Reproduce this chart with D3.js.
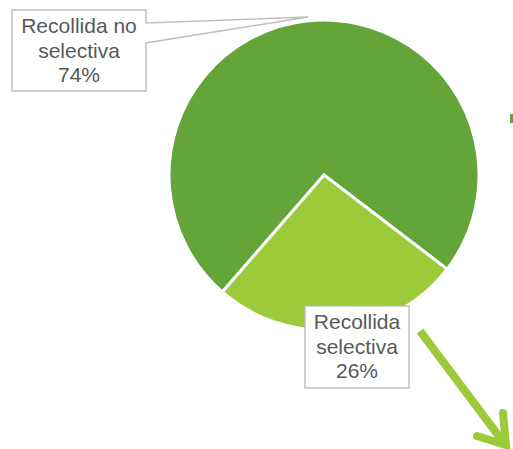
<!DOCTYPE html>
<html>
<head>
<meta charset="utf-8">
<script src="https://cdn.jsdelivr.net/npm/d3@7"></script>
<style>
  html, body { margin: 0; padding: 0; background: #fff; }
  svg { display: block; }
</style>
</head>
<body>
<svg id="chart" width="513" height="449"></svg>
<script>
const categories = ["Recollida no selectiva", "Recollida selectiva"];
const values = [74, 26];
const labelLines = [["Recollida no", "selectiva"], ["Recollida", "selectiva"]];
const colors = ["#63a538", "#9bcb3b"];

const svg = d3.select("#chart");
const cx = 324, cy = 175, r = 155;
const total = d3.sum(values);
const data = categories.map((c, i) => ({ cat: c, value: values[i], lines: labelLines[i], color: colors[i] }));

const startDeg = 221;
const pie = d3.pie().sort(null).value(d => d.value)
  .startAngle(startDeg * Math.PI / 180)
  .endAngle((startDeg + 360) * Math.PI / 180);
const arcs = pie(data);
const arc = d3.arc().innerRadius(0).outerRadius(r);

const g = svg.append("g").attr("transform", `translate(${cx},${cy})`);
g.selectAll("path.slice").data(arcs).join("path")
  .attr("class", "slice")
  .attr("d", arc)
  .attr("fill", d => d.data.color)
  .attr("stroke", "#fff")
  .attr("stroke-width", 3)
  .attr("stroke-linejoin", "miter");

// small clipped mark at right edge
svg.append("rect").attr("x", 510).attr("y", 114).attr("width", 4).attr("height", 9).attr("fill", colors[0]);

// Arrow
const arrow = svg.append("g").attr("stroke", colors[1]).attr("fill", "none").attr("stroke-width", 8);
arrow.append("line").attr("x1", 420).attr("y1", 331).attr("x2", 504).attr("y2", 443).attr("stroke-linecap", "butt");
arrow.append("polyline").attr("points", "503,413 506,445 477,436")
  .attr("stroke-linejoin", "miter").attr("stroke-linecap", "round");

const fontSize = 21;
const pct = v => Math.round(v / total * 100) + "%";

// Label 1 callout (box + pointer)
const b1 = { x: 12, y: 10, w: 134, h: 81 };
const tip = [308, 17];
svg.append("path")
  .attr("d", `M${b1.x},${b1.y} H${b1.x + b1.w} V23 L${tip[0]},${tip[1]} L${b1.x + b1.w},43 V${b1.y + b1.h} H${b1.x} Z`)
  .attr("fill", "#fff").attr("stroke", "#bfbfbf").attr("stroke-width", 1.5);
const t1 = svg.append("text").attr("font-family", "Liberation Sans, Arial, sans-serif")
  .attr("font-size", fontSize).attr("fill", "#595959").attr("text-anchor", "middle");
[...data[0].lines, pct(data[0].value)].forEach((s, i) => {
  t1.append("tspan").attr("x", b1.x + b1.w / 2).attr("y", 33 + i * 24.5).text(s);
});

// Label 2 box
const b2 = { x: 305, y: 306, w: 104, h: 82 };
svg.append("rect").attr("x", b2.x).attr("y", b2.y).attr("width", b2.w).attr("height", b2.h)
  .attr("fill", "#fff").attr("stroke", "#bfbfbf").attr("stroke-width", 1.5);
const t2 = svg.append("text").attr("font-family", "Liberation Sans, Arial, sans-serif")
  .attr("font-size", fontSize).attr("fill", "#595959").attr("text-anchor", "middle");
[...data[1].lines, pct(data[1].value)].forEach((s, i) => {
  t2.append("tspan").attr("x", b2.x + b2.w / 2).attr("y", 329 + i * 24.5).text(s);
});
</script>
</body>
</html>
